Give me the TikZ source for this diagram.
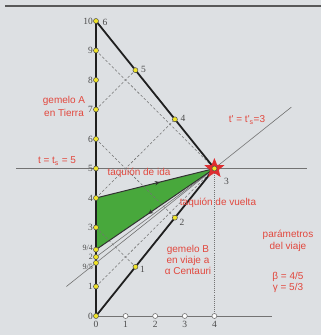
\documentclass[tikz,border=0pt]{standalone}
\usepackage{fontspec}
\setmainfont{Liberation Serif}
\newfontfamily\redfont{Liberation Sans}
\usetikzlibrary{shapes.geometric,decorations.markings,arrows.meta}
\definecolor{bg}{RGB}{221,224,227}
\definecolor{txtred}{RGB}{226,72,62}
\definecolor{tachgreen}{RGB}{72,168,60}
\definecolor{numgray}{RGB}{75,75,75}
\definecolor{linegray}{RGB}{115,115,115}
\definecolor{dotyellow}{RGB}{240,228,40}
\definecolor{starred}{RGB}{222,45,48}
\begin{document}
\begin{tikzpicture}[x=29.6pt,y=29.5pt,
  evt/.style={circle,fill=dotyellow,draw=black!70,line width=0.5pt,inner sep=0pt,minimum size=5pt},
  tickmark/.style={circle,fill=white,draw=linegray,line width=0.6pt,inner sep=0pt,minimum size=5pt},
  num/.style={font=\fontsize{9.5}{10}\selectfont,text=numgray,inner sep=0.5pt},
  smallnum/.style={font=\fontsize{8}{8}\selectfont,text=numgray,inner sep=0pt},
  redtxt/.style={font=\redfont\fontsize{10}{11}\selectfont,text=txtred,align=center,inner sep=0pt},
  world/.style={line width=1.8pt,black!88,line join=round},
  lightray/.style={linegray,line width=0.55pt,dash pattern=on 2.5pt off 2pt},
  simline/.style={linegray,line width=0.6pt},
  refline/.style={linegray,line width=1.1pt},
  axisline/.style={linegray,line width=0.9pt},
  dotline/.style={linegray,line width=0.7pt,dash pattern=on 0.8pt off 1.3pt},
  frameline/.style={black!65,line width=1.4pt},
  tachyon/.style={black!80,line width=1pt},
  arrowat/.style={postaction={decorate},decoration={markings,mark=at position #1 with {\arrow{Stealth[length=5pt,width=4.5pt]}}}}
]
\coordinate (bbl) at (-3.243,-0.644);
\coordinate (btr) at (7.601,10.712);
\fill[bg] (bbl) rectangle (btr);
\useasboundingbox (bbl) rectangle (btr);
\coordinate (topl) at (-3.074,10.508);
\coordinate (topr) at (7.601,10.508);
\draw[frameline] (topl) -- (topr);

% events of twin A
\foreach \t in {0,...,10} \coordinate (a\t) at (0,\t);
\coordinate (a95) at (0,1.8);
\coordinate (a94) at (0,2.25);
% events of twin B
\coordinate (b1) at (4/3,5/3);
\coordinate (b2) at (8/3,10/3);
\coordinate (b3) at (4,5);
\coordinate (b4) at (8/3,20/3);
\coordinate (b5) at (4/3,25/3);
% axis and auxiliary points
\foreach \x in {1,...,4} \coordinate (x\x) at (\x,0);
\coordinate (xend) at (5.95,0);
\coordinate (hl) at (-2.7,5);
\coordinate (hr) at (7.13,5);
\coordinate (sl) at (-1,1);
\coordinate (sr) at (6.6,7.08);

\draw[refline] (hl) -- (hr);
\draw[axisline] (a0) -- (xend);
\draw[dotline] (b3) -- (x4);
\fill[tachgreen] (a4) -- (b3) -- (a94) -- cycle;

\draw[lightray] (a1) -- (b3);
\draw[lightray] (a9) -- (b3);
\draw[lightray] (a3) -- (b1);
\draw[lightray] (a6) -- (b2);
\draw[lightray] (a4) -- (b4);
\draw[lightray] (a7) -- (b5);
\draw[simline] (sl) -- (sr);
\draw[simline] (a2) -- (b3);

\draw[tachyon,arrowat=0.54] (a4) -- (b3);
\draw[tachyon,arrowat=0.56] (b3) -- (a94);

\draw[world] (a0) -- (a10);
\draw[world] (a0) -- (b3) -- (a10);

\node[star,star points=5,star point ratio=2.3,fill=starred,minimum size=21pt,inner sep=0pt] (st) at (b3) {};

\foreach \n in {a0,a1,a95,a2,a94,a3,a4,a5,a6,a7,a8,a9,a10,b1,b2,b3,b4,b5}
  \node[evt] (d\n) at (\n) {};
\foreach \x in {1,...,4}
  \node[tickmark] (tk\x) at (x\x) {};

% labels of A's clock
\foreach \t in {0,1,3,4,5,6,7,8,9,10}
  \node[num,left=2.5pt] (la\t) at (a\t) {\t};
\node[smallnum,left=3pt,yshift=-0.3pt] (la2) at (a2) {2};
\node[smallnum,left=3pt,yshift=-3.6pt] (la95) at (a95) {9/5};
\node[smallnum,left=3pt,yshift=2pt] (la94) at (a94) {9/4};
% labels of B's clock
\node[num,xshift=7pt,yshift=-3pt] (lb1) at (b1) {1};
\node[num,xshift=7pt,yshift=-5pt] (lb2) at (b2) {2};
\node[num,xshift=12pt,yshift=-13pt] (lb3) at (b3) {3};
\node[num,xshift=8pt,yshift=1pt] (lb4) at (b4) {4};
\node[num,xshift=8pt,yshift=1pt] (lb5) at (b5) {5};
\node[num,xshift=9pt,yshift=-1pt] (lb6) at (a10) {6};
% x axis labels
\node[num,below=4.5pt] (lx0) at (a0) {0};
\foreach \x in {1,...,4}
  \node[num,below=4.5pt] (lx\x) at (x\x) {\x};

% red texts
\node[redtxt,font=\redfont\fontsize{10}{12.5}\selectfont] (tA) at (-1.08,7.10) {gemelo A\\en Tierra};
\node[redtxt] (ts) at (-1.318,5.254) {t = t\textsubscript{s} = 5};
\node[redtxt] (tsp) at (5.101,6.644) {t' = t'\textsubscript{s}=3};
\node[redtxt] (tida) at (1.453,4.847) {taquión de ida};
\node[redtxt] (tvuelta) at (4.122,3.831) {taquión de vuelta};
\node[redtxt] (tB) at (3.108,1.898) {gemelo B\\en viaje a\\α Centauri};
\node[redtxt,font=\redfont\fontsize{10}{12}\selectfont] (tpar) at (6.486,2.542) {parámetros\\del viaje};
\node[redtxt,font=\redfont\fontsize{10}{10.5}\selectfont] (tbg) at (6.486,1.136) {β = 4/5\\γ = 5/3};
\end{tikzpicture}
\end{document}
